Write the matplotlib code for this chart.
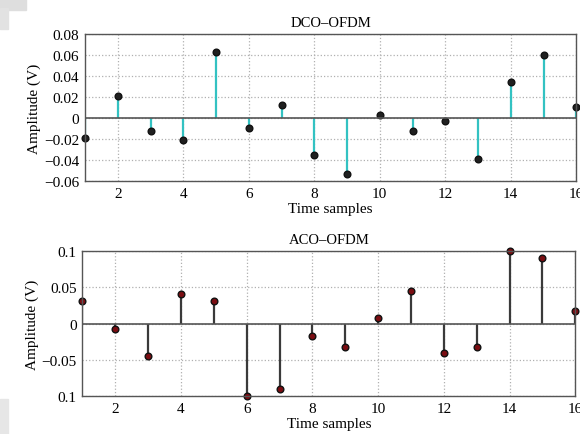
import matplotlib
matplotlib.use('Agg')
import matplotlib.pyplot as plt
import numpy as np
from matplotlib.patches import Rectangle

plt.rcParams['font.family'] = ['Liberation Serif', 'DejaVu Serif']
plt.rcParams['axes.unicode_minus'] = True

samples = np.arange(1, 17)
dco = [-0.019, 0.021, -0.012, -0.021, 0.063, -0.010, 0.012, -0.035,
       -0.053, 0.003, -0.012, -0.003, -0.039, 0.034, 0.060, 0.010]
aco = [0.031, -0.007, -0.045, 0.041, 0.031, -0.100, -0.090, -0.017,
       -0.032, 0.007, 0.045, -0.041, -0.032, 0.100, 0.090, 0.018]

dco_ticks = [-0.06, -0.04, -0.02, 0, 0.02, 0.04, 0.06, 0.08]
dco_labels = ['\u22120.06', '\u22120.04', '\u22120.02', '0', '0.02', '0.04', '0.06', '0.08']
aco_ticks = [-0.1, -0.05, 0, 0.05, 0.1]
aco_labels = ['0.1', '\u22120.05', '0', '0.05', '0.1']
x_ticks = [2, 4, 6, 8, 10, 12, 14, 16]

fig = plt.figure(figsize=(5.8, 4.35), dpi=100)

# grey page bits in the corners of the scan
for (x0, y0, w, h, c) in [(0, 0.975, 0.045, 0.025, '#dedede'),
                          (0, 0.93, 0.014, 0.05, '#e2e2e2'),
                          (0, 0.0, 0.014, 0.08, '#e6e6e6')]:
    fig.patches.append(Rectangle((x0, y0), w, h, transform=fig.transFigure,
                                 color=c, zorder=0))


def stem_panel(ax, y, title, ticks, labels, ylim, stem_col, face_col):
    ml, sl, bl = ax.stem(samples, y, basefmt='-')
    plt.setp(sl, color=stem_col, linewidth=1.6)
    plt.setp(ml, marker='o', markersize=4.8, markerfacecolor=face_col,
             markeredgecolor='#111111', markeredgewidth=1.0)
    plt.setp(bl, color='#555555', linewidth=1.2)
    ml.set_clip_on(False)
    ax.set_xlim(1, 16)
    ax.set_ylim(*ylim)
    ax.set_xticks(x_ticks)
    ax.set_yticks(ticks)
    ax.set_yticklabels(labels)
    ax.grid(True, linestyle=':', color='#b0b0b0', linewidth=0.9)
    ax.set_axisbelow(True)
    ax.set_title(title, fontsize=10.5, pad=6)
    ax.set_xlabel('Time samples', fontsize=11, labelpad=2)
    ax.set_ylabel('Amplitude (V)', fontsize=11, labelpad=2)
    ax.tick_params(labelsize=11, length=0, pad=4)
    for s in ax.spines.values():
        s.set_color('#555555')
        s.set_linewidth(1.0)


ax1 = fig.add_axes([0.1466, 0.5816, 0.847, 0.338])
stem_panel(ax1, dco, 'DCO\u2013OFDM', dco_ticks, dco_labels, (-0.06, 0.08),
           '#33c2c2', '#202020')

ax2 = fig.add_axes([0.142, 0.0874, 0.850, 0.333])
stem_panel(ax2, aco, 'ACO\u2013OFDM', aco_ticks, aco_labels, (-0.1, 0.1),
           '#3a3a3a', '#7a0d12')

fig.savefig('out.png', dpi=100)
